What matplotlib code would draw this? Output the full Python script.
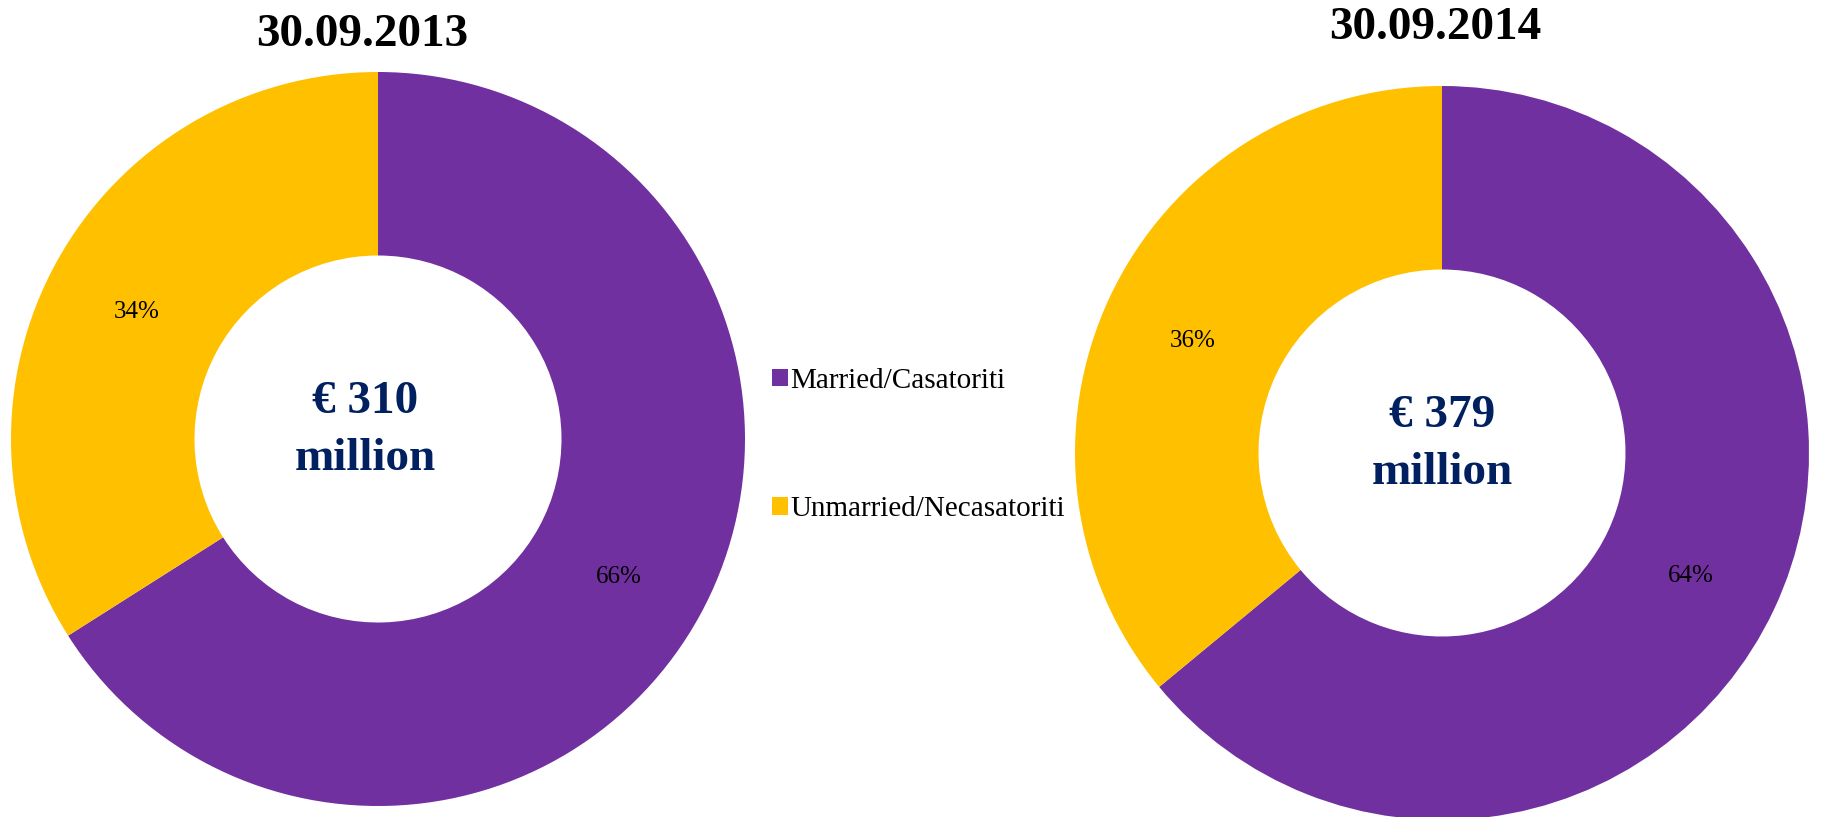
import matplotlib
matplotlib.use('Agg')
from matplotlib import pyplot as plt
from matplotlib.patches import Patch

# values
dates = ['30.09.2013', '30.09.2014']
totals = [310, 379]
categories = ['Married/Casatoriti', 'Unmarried/Necasatoriti']
married = [66, 64]
unmarried = [34, 36]

colors = ['#7030A0', '#FFC000']
navy = '#002060'

W, H = 1822, 817
plt.rcParams['font.family'] = ['Liberation Serif', 'DejaVu Serif']

fig = plt.figure(figsize=(W / 100, H / 100), dpi=100)

# donut placement in pixels: (center x, center y from top, radius)
donuts = [(378, 439, 367), (1442, 453, 367)]
title_pos = [(362, 35), (1435, 28)]
label_dx = [-0.035, 0.0]

for i in range(2):
    cx, cy, r = donuts[i]
    ax = fig.add_axes([(cx - r) / W, (H - cy - r) / H, 2 * r / W, 2 * r / H])
    wedges, texts, autotexts = ax.pie(
        [married[i], unmarried[i]], colors=colors, startangle=90,
        counterclock=False, radius=1, autopct='%1.0f%%', pctdistance=0.75,
        wedgeprops=dict(width=0.5, linewidth=0),
        textprops=dict(fontsize=18, color='black'))
    for t in autotexts:
        x, y = t.get_position()
        t.set_position((x, y - 0.015))
    ax.set_xlim(-1, 1)
    ax.set_ylim(-1, 1)
    ax.set_aspect('equal')
    ax.axis('off')
    ax.text(label_dx[i], 0.07, f'€ {totals[i]}', ha='center', va='baseline',
            fontsize=34, fontweight='bold', color=navy)
    ax.text(label_dx[i], -0.085, 'million', ha='center', va='baseline',
            fontsize=34, fontweight='bold', color=navy)

    tx, ty = title_pos[i]
    fig.text(tx / W, 1 - ty / H, dates[i], ha='center', va='center',
             fontsize=34, fontweight='bold', color='black')

handles = [Patch(facecolor=c, edgecolor='none') for c in colors]
fig.legend(handles, categories, loc='center left',
           bbox_to_anchor=(760 / W, 1 - 445 / H), frameon=False,
           fontsize=21, handlelength=0.55, handleheight=0.55,
           handletextpad=0.1, labelspacing=3.5, borderaxespad=0)

fig.savefig('out.png', dpi=100)
